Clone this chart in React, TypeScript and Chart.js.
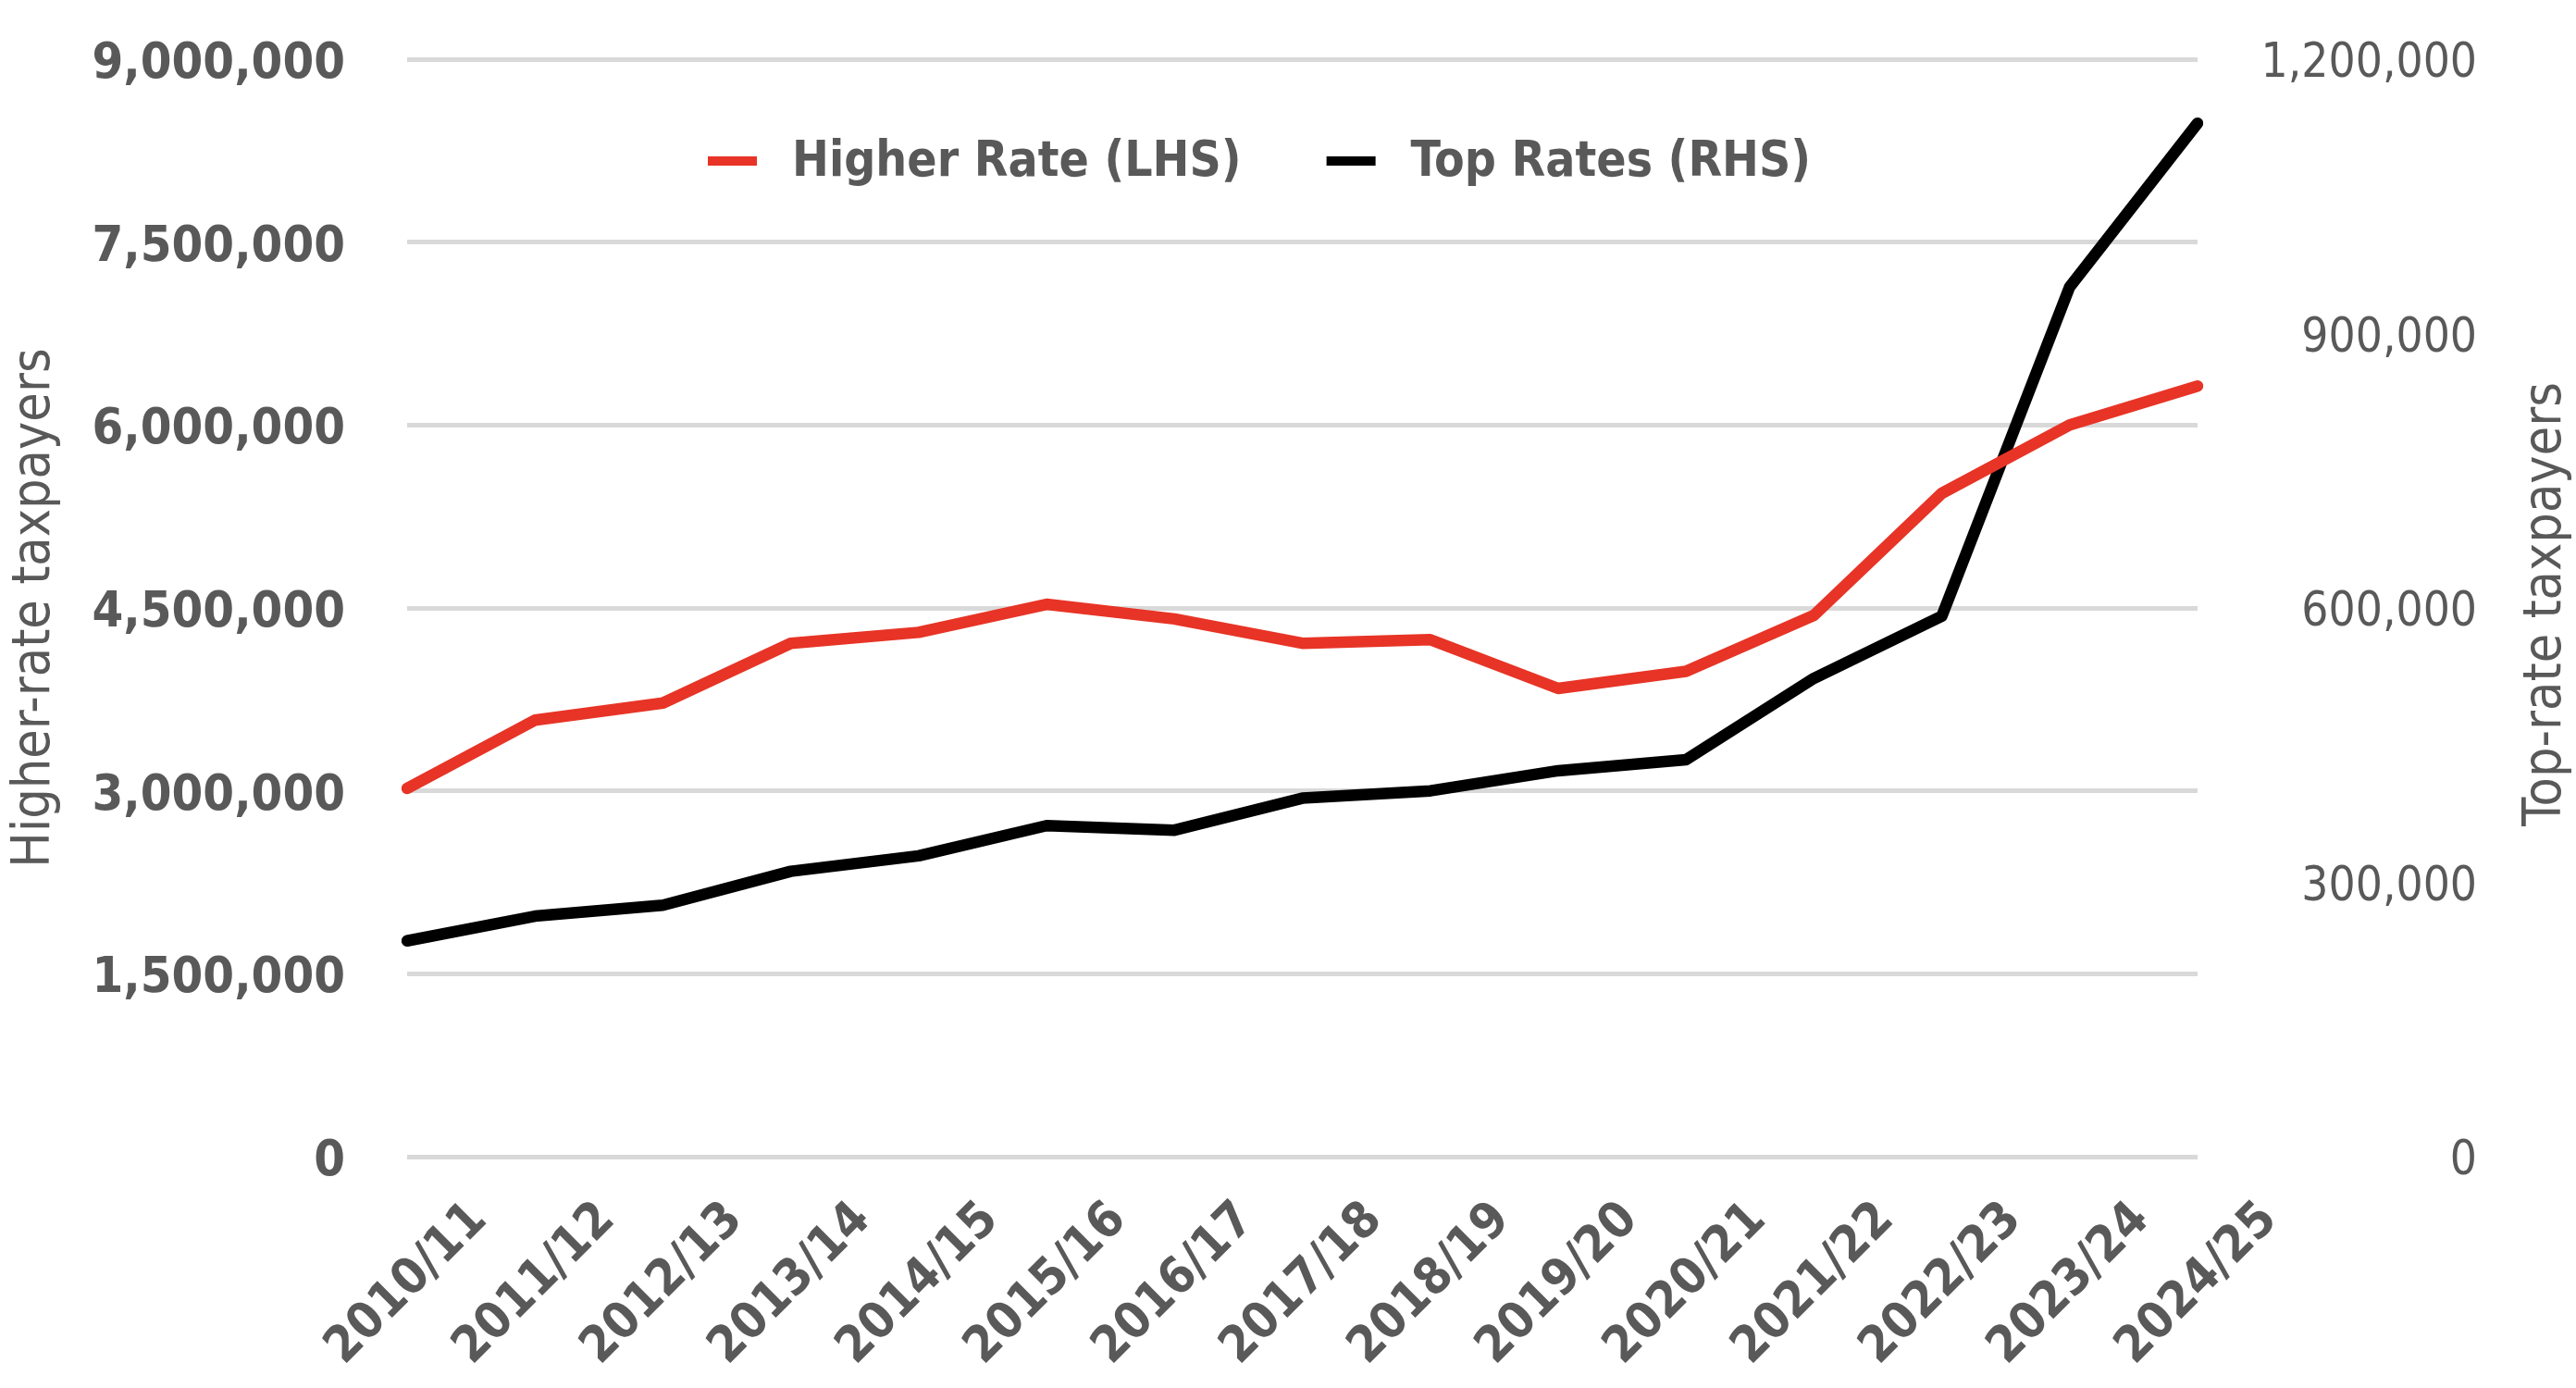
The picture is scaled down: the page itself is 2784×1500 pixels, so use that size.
import React, { useEffect, useRef } from 'react';
import { Chart, registerables } from 'chart.js';

Chart.register(...registerables);

const categories = [
  '2010/11', '2011/12', '2012/13', '2013/14', '2014/15', '2015/16', '2016/17', '2017/18',
  '2018/19', '2019/20', '2020/21', '2021/22', '2022/23', '2023/24', '2024/25',
];
const higherRate = [
  3020000, 3580000, 3720000, 4210000, 4300000, 4530000, 4410000, 4210000,
  4240000, 3840000, 3980000, 4440000, 5440000, 6000000, 6320000,
];
const topRates = [
  236000, 263000, 275000, 312000, 329000, 362000, 357000, 392000,
  400000, 422000, 434000, 523000, 591000, 951000, 1130000,
];
const seriesLabels = ['Higher Rate (LHS)', 'Top Rates (RHS)'];
const axisTitles = ['Higher-rate taxpayers', 'Top-rate taxpayers'];
const leftAxis = { min: 0, max: 9000000, step: 1500000 };
const rightAxis = { min: 0, max: 1200000, step: 300000 };

const COND = "'DejaVu Sans Condensed', 'DejaVu Sans', sans-serif";
const GREY = '#595959';
const RED = '#E73426';
const BLACK = '#000000';

const fmt = (v: number) => Math.round(v).toLocaleString('en-US');

const insideLegend = {
  id: 'insideLegend',
  afterDraw(chart: any) {
    const { ctx, chartArea } = chart;
    ctx.save();
    ctx.font = `bold 53px ${COND}`;
    ctx.textBaseline = 'middle';
    ctx.textAlign = 'left';
    const y = 174;
    let x = chartArea.left + 325;
    chart.data.datasets.forEach((ds: any) => {
      ctx.fillStyle = ds.borderColor;
      ctx.fillRect(x, y - 5, 53, 10);
      x += 53 + 38;
      ctx.fillStyle = GREY;
      ctx.fillText(ds.label, x, y + 2);
      x += ctx.measureText(ds.label).width + 92;
    });
    ctx.restore();
  },
};

const rightTitle = {
  id: 'rightTitle',
  afterDraw(chart: any) {
    const { ctx, chartArea } = chart;
    ctx.save();
    ctx.font = `57px ${COND}`;
    ctx.fillStyle = GREY;
    ctx.textAlign = 'center';
    ctx.textBaseline = 'middle';
    ctx.translate(chart.width - 32, (chartArea.top + chartArea.bottom) / 2 - 4);
    ctx.rotate(-Math.PI / 2);
    ctx.fillText(axisTitles[1], 0, 0);
    ctx.restore();
  },
};

export default function App() {
  const ref = useRef<HTMLCanvasElement | null>(null);

  useEffect(() => {
    document.body.style.margin = '0';
    const canvas = ref.current;
    if (!canvas) return;
    const chart = new Chart(canvas, {
      type: 'line',
      data: {
        labels: categories,
        datasets: [
          {
            label: seriesLabels[0],
            data: higherRate,
            borderColor: RED,
            backgroundColor: RED,
            borderWidth: 12.5,
            borderCapStyle: 'round',
            borderJoinStyle: 'round',
            pointRadius: 0,
            tension: 0,
            yAxisID: 'y',
          },
          {
            label: seriesLabels[1],
            data: topRates,
            borderColor: BLACK,
            backgroundColor: BLACK,
            borderWidth: 12.5,
            borderCapStyle: 'round',
            borderJoinStyle: 'round',
            pointRadius: 0,
            tension: 0,
            yAxisID: 'y1',
          },
        ],
      },
      options: {
        responsive: false,
        animation: false,
        devicePixelRatio: 1,
        layout: { padding: { top: 64, left: 0, right: 107, bottom: 0 } },
        plugins: {
          legend: { display: false },
          tooltip: { enabled: false },
          title: { display: false },
        },
        scales: {
          x: {
            offset: false,
            grid: { display: false, drawTicks: false },
            border: { display: false },
            ticks: {
              autoSkip: false,
              minRotation: 45,
              maxRotation: 45,
              color: GREY,
              padding: 37,
              labelOffset: 78,
              font: { family: COND, size: 54, weight: 'bold' },
            },
            afterFit: (scale: any) => {
              scale.height = 250;
            },
          },
          y: {
            position: 'left',
            min: leftAxis.min,
            max: leftAxis.max,
            grid: {
              color: '#D9D9D9',
              lineWidth: 5,
              drawTicks: true,
              tickLength: 67,
              tickColor: 'rgba(0,0,0,0)',
            },
            border: { display: false },
            ticks: {
              stepSize: leftAxis.step,
              color: GREY,
              padding: 0,
              labelOffset: 6,
              font: { family: COND, size: 54, weight: 'bold' },
              callback: (v: any) => fmt(Number(v)),
            },
            title: {
              display: true,
              text: axisTitles[0],
              color: GREY,
              padding: { top: 4, bottom: 0 },
              font: { family: COND, size: 57 },
            },
            afterFit: (scale: any) => {
              scale.width = 440;
            },
          },
          y1: {
            position: 'right',
            min: rightAxis.min,
            max: rightAxis.max,
            grid: { display: false, drawTicks: false },
            border: { display: false },
            ticks: {
              stepSize: rightAxis.step,
              color: GREY,
              padding: 0,
              labelOffset: 6,
              crossAlign: 'far',
              font: { family: COND, size: 51 },
              callback: (v: any) => fmt(Number(v)),
            },
            afterFit: (scale: any) => {
              scale.width = 302;
            },
          },
        },
      },
      plugins: [insideLegend, rightTitle],
    } as any);
    return () => chart.destroy();
  }, []);

  return (
    <div style={{ width: 2784, height: 1500, background: '#ffffff' }}>
      <canvas ref={ref} width={2784} height={1500} style={{ display: 'block' }} />
    </div>
  );
}
